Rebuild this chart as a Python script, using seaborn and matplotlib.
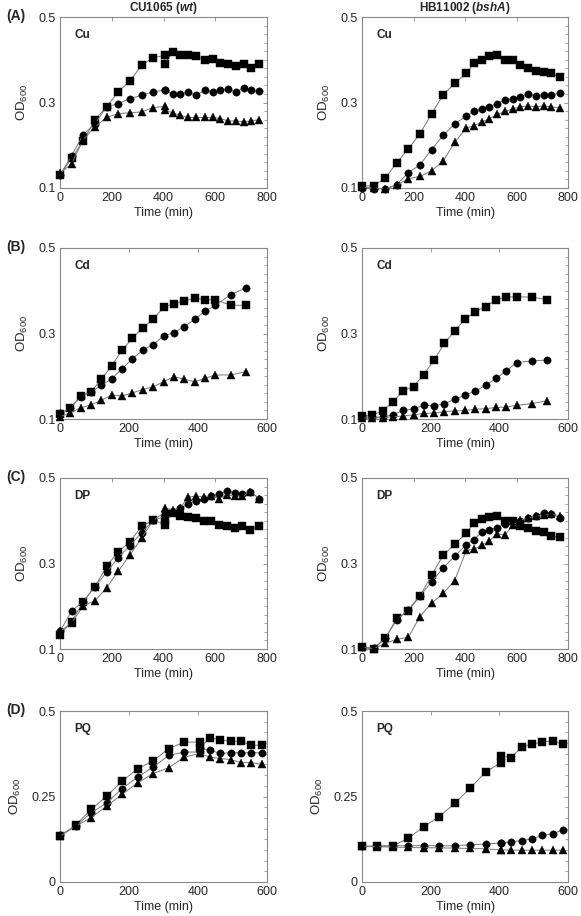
import numpy as np
import pandas as pd
import matplotlib
matplotlib.use("Agg")
import matplotlib.pyplot as plt
from matplotlib.ticker import MultipleLocator
import seaborn as sns

sns.set_theme(style="white")
plt.rcParams['font.family'] = ['Liberation Sans', 'DejaVu Sans']

# ---------------- data ----------------
# Panel A (Cu), time in min
t_A = [0, 45, 90, 135, 180, 225, 270, 315, 360, 405, 405, 435, 465, 495, 525, 560, 590, 620, 650, 680, 710, 740, 770]
A_wt_sq = [0.13, 0.17, 0.21, 0.26, 0.29, 0.325, 0.35, 0.387, 0.405, 0.41, 0.39, 0.418, 0.412, 0.41, 0.408, 0.40, 0.402, 0.393, 0.389, 0.385, 0.389, 0.38, 0.39]
A_wt_ci = [0.13, 0.176, 0.225, 0.25, 0.29, 0.297, 0.309, 0.317, 0.325, 0.329, 0.329, 0.32, 0.32, 0.324, 0.317, 0.329, 0.324, 0.33, 0.332, 0.324, 0.334, 0.33, 0.327]
A_wt_tr = [0.134, 0.157, 0.213, 0.243, 0.265, 0.274, 0.276, 0.278, 0.288, 0.291, 0.282, 0.276, 0.27, 0.265, 0.265, 0.265, 0.265, 0.262, 0.257, 0.257, 0.255, 0.257, 0.26]

t_A2 = [0, 45, 90, 135, 180, 225, 270, 315, 360, 405, 435, 465, 495, 525, 555, 585, 615, 645, 675, 705, 735, 770]
A_mu_sq = [0.105, 0.105, 0.123, 0.159, 0.192, 0.227, 0.273, 0.318, 0.345, 0.368, 0.392, 0.40, 0.408, 0.411, 0.40, 0.399, 0.387, 0.38, 0.374, 0.372, 0.368, 0.359]
A_mu_ci = [0.10, 0.098, 0.098, 0.108, 0.136, 0.154, 0.19, 0.223, 0.25, 0.268, 0.279, 0.285, 0.29, 0.297, 0.307, 0.308, 0.314, 0.32, 0.316, 0.318, 0.318, 0.322]
A_mu_tr = [0.102, 0.10, 0.098, 0.106, 0.122, 0.127, 0.14, 0.163, 0.207, 0.24, 0.246, 0.254, 0.262, 0.272, 0.279, 0.285, 0.29, 0.292, 0.29, 0.292, 0.29, 0.287]

# Panel B (Cd)
t_B = [0, 30, 60, 90, 120, 150, 180, 210, 240, 270, 300, 330, 360, 390, 420, 450, 495, 540]
B_wt_sq = [0.111, 0.125, 0.154, 0.164, 0.193, 0.225, 0.261, 0.289, 0.314, 0.333, 0.361, 0.37, 0.376, 0.383, 0.379, 0.379, 0.366, 0.366]
B_wt_ci = [0.113, 0.126, 0.152, 0.163, 0.179, 0.194, 0.218, 0.241, 0.261, 0.274, 0.294, 0.302, 0.316, 0.333, 0.352, 0.366, 0.391, 0.407]
B_wt_tr = [0.105, 0.115, 0.126, 0.133, 0.144, 0.156, 0.154, 0.161, 0.169, 0.175, 0.187, 0.199, 0.193, 0.187, 0.195, 0.203, 0.203, 0.211]
B_mu_sq = [0.107, 0.109, 0.119, 0.14, 0.166, 0.176, 0.204, 0.238, 0.277, 0.306, 0.333, 0.351, 0.363, 0.379, 0.385, 0.386, 0.385, 0.379]
B_mu_ci = [0.105, 0.104, 0.105, 0.11, 0.12, 0.124, 0.132, 0.131, 0.136, 0.146, 0.156, 0.165, 0.179, 0.195, 0.212, 0.232, 0.236, 0.238]
B_mu_tr = [0.102, 0.102, 0.103, 0.105, 0.107, 0.11, 0.113, 0.114, 0.117, 0.119, 0.12, 0.123, 0.124, 0.127, 0.128, 0.132, 0.136, 0.143]

# Panel C (DP)
t_C = [0, 45, 90, 135, 180, 225, 270, 315, 360, 405, 405, 435, 465, 495, 525, 555, 585, 615, 645, 675, 705, 735, 770]
C_wt_sq = [0.133, 0.164, 0.211, 0.246, 0.293, 0.328, 0.35, 0.387, 0.401, 0.391, 0.401, 0.419, 0.411, 0.409, 0.406, 0.399, 0.399, 0.391, 0.387, 0.384, 0.387, 0.379, 0.388]
C_wt_ci = [0.141, 0.189, 0.211, 0.246, 0.279, 0.314, 0.342, 0.372, 0.401, 0.41, 0.42, 0.42, 0.43, 0.439, 0.447, 0.452, 0.457, 0.463, 0.469, 0.466, 0.463, 0.467, 0.452]
C_wt_tr = [0.141, 0.161, 0.201, 0.213, 0.243, 0.282, 0.32, 0.359, 0.401, 0.42, 0.43, 0.425, 0.43, 0.455, 0.458, 0.456, 0.458, 0.452, 0.46, 0.458, 0.457, 0.468, 0.452]

t_C2 = [0, 45, 90, 135, 180, 225, 270, 315, 360, 405, 435, 465, 495, 525, 555, 585, 615, 645, 675, 705, 735, 770]
C_mu_sq = [0.104, 0.10, 0.125, 0.172, 0.189, 0.224, 0.272, 0.319, 0.345, 0.371, 0.395, 0.403, 0.409, 0.411, 0.40, 0.399, 0.387, 0.382, 0.376, 0.374, 0.364, 0.361]
C_mu_ci = [0.104, 0.102, 0.125, 0.168, 0.192, 0.225, 0.256, 0.29, 0.317, 0.344, 0.356, 0.374, 0.379, 0.384, 0.393, 0.399, 0.40, 0.407, 0.41, 0.419, 0.415, 0.407]
C_mu_tr = [0.104, 0.101, 0.113, 0.123, 0.127, 0.176, 0.207, 0.23, 0.26, 0.331, 0.333, 0.343, 0.353, 0.37, 0.366, 0.39, 0.401, 0.407, 0.41, 0.413, 0.415, 0.412]

# Panel D (PQ)
t_D = [0, 45, 90, 135, 180, 225, 270, 315, 360, 405, 405, 435, 465, 495, 525, 555, 585]
D_wt_sq = [0.134, 0.166, 0.212, 0.251, 0.295, 0.331, 0.354, 0.39, 0.409, 0.409, 0.392, 0.422, 0.415, 0.412, 0.411, 0.40, 0.40]
D_wt_ci = [0.137, 0.163, 0.202, 0.231, 0.273, 0.307, 0.336, 0.37, 0.38, 0.38, 0.392, 0.385, 0.376, 0.378, 0.378, 0.378, 0.378]
D_wt_tr = [0.134, 0.163, 0.188, 0.222, 0.256, 0.29, 0.317, 0.334, 0.365, 0.376, 0.376, 0.365, 0.361, 0.358, 0.349, 0.349, 0.344]
D_mu_sq = [0.104, 0.106, 0.106, 0.128, 0.162, 0.191, 0.23, 0.274, 0.322, 0.349, 0.368, 0.364, 0.395, 0.403, 0.41, 0.412, 0.403]
D_mu_ci = [0.104, 0.104, 0.106, 0.106, 0.106, 0.106, 0.106, 0.109, 0.111, 0.114, 0.114, 0.118, 0.121, 0.126, 0.136, 0.141, 0.152]
D_mu_tr = [0.104, 0.103, 0.102, 0.101, 0.10, 0.10, 0.099, 0.098, 0.097, 0.094, 0.094, 0.093, 0.093, 0.093, 0.093, 0.093, 0.093]

col_titles = ["CU1065 ($\\mathbf{\\mathit{wt}}$)", "HB11002 ($\\mathbf{\\mathit{bshA}}$)"]
row_labels = ["(A)", "(B)", "(C)", "(D)"]
stress_labels = ["Cu", "Cd", "DP", "PQ"]
x_max = [800, 600, 800, 600]
y_lim = [(0.1, 0.5), (0.1, 0.5), (0.1, 0.5), (0.0, 0.5)]
y_ticks = [[0.1, 0.3, 0.5], [0.1, 0.3, 0.5], [0.1, 0.3, 0.5], [0, 0.25, 0.5]]
y_ticklabels = [["0.1", "0.3", "0.5"]] * 3 + [["0", "0.25", "0.5"]]
x_ticks = [[0, 200, 400, 600, 800], [0, 200, 400, 600], [0, 200, 400, 600, 800], [0, 200, 400, 600]]

panels = [
    [(t_A, A_wt_sq, A_wt_ci, A_wt_tr), (t_A2, A_mu_sq, A_mu_ci, A_mu_tr)],
    [(t_B, B_wt_sq, B_wt_ci, B_wt_tr), (t_B, B_mu_sq, B_mu_ci, B_mu_tr)],
    [(t_C, C_wt_sq, C_wt_ci, C_wt_tr), (t_C2, C_mu_sq, C_mu_ci, C_mu_tr)],
    [(t_D, D_wt_sq, D_wt_ci, D_wt_tr), (t_D, D_mu_sq, D_mu_ci, D_mu_tr)],
]

# ---------------- figure ----------------
W, H = 581, 916
fig = plt.figure(figsize=(W / 100, H / 100), dpi=100)
plt.rcParams['mathtext.fontset'] = 'custom'
plt.rcParams['mathtext.rm'] = 'Liberation Sans'
plt.rcParams['mathtext.it'] = 'Liberation Sans:italic:bold'
plt.rcParams['mathtext.bf'] = 'Liberation Sans:bold'

col_x = [(60, 267), (362, 568)]
row_y = [(17, 188), (248, 419), (478, 649), (711, 882)]

markers = ["s", "o", "^"]
msizes = [5.3, 5.3, 5.6]
fs = 9

for r in range(4):
    for c in range(2):
        x0, x1 = col_x[c]
        y0, y1 = row_y[r]
        ax = fig.add_axes([x0 / W, 1 - y1 / H, (x1 - x0) / W, (y1 - y0) / H])
        t, s1, s2, s3 = panels[r][c]
        for k, ser in enumerate([s1, s2, s3]):
            df = pd.DataFrame({"t": t, "od": ser})
            sns.lineplot(data=df, x="t", y="od", ax=ax, sort=False, estimator=None,
                         color="#777777", lw=0.7, marker=markers[k], markersize=msizes[k],
                         markerfacecolor="black", markeredgecolor="black",
                         markeredgewidth=0.3, clip_on=False, zorder=3)
        ax.set_xlim(0, x_max[r])
        ax.set_ylim(*y_lim[r])
        ax.set_xticks(x_ticks[r])
        ax.set_yticks(y_ticks[r])
        ax.set_yticklabels(y_ticklabels[r])
        if r < 3:
            ax.yaxis.set_minor_locator(MultipleLocator(0.02))
        else:
            ax.yaxis.set_minor_locator(MultipleLocator(0.25 / 8))
        ax.tick_params(axis="both", which="both", direction="in", top=True, right=True,
                       labelsize=fs, color="#888888", pad=3)
        ax.tick_params(which="major", length=3, width=0.6)
        ax.tick_params(which="minor", length=2, width=0.5)
        ax.tick_params(axis="y", which="minor", left=False)
        for sp in ax.spines.values():
            sp.set_color("#888888")
            sp.set_linewidth(0.8)
        ax.set_xlabel("Time (min)", fontsize=fs, labelpad=2)
        ax.set_ylabel("OD$_{600}$", fontsize=fs + 0.5, labelpad=6)
        ax.text(0.07, 0.93, stress_labels[r], transform=ax.transAxes, fontsize=8.5,
                fontweight="bold", ha="left", va="top")
        if c == 0:
            fig.text(6 / W, 1 - (y0 - 1) / H, row_labels[r], fontsize=10,
                     fontweight="bold", ha="left", va="center")
        if r == 0:
            ax.set_title(col_titles[c], fontsize=8.5, fontweight="bold", pad=4)

fig.savefig("out.png", dpi=100)
